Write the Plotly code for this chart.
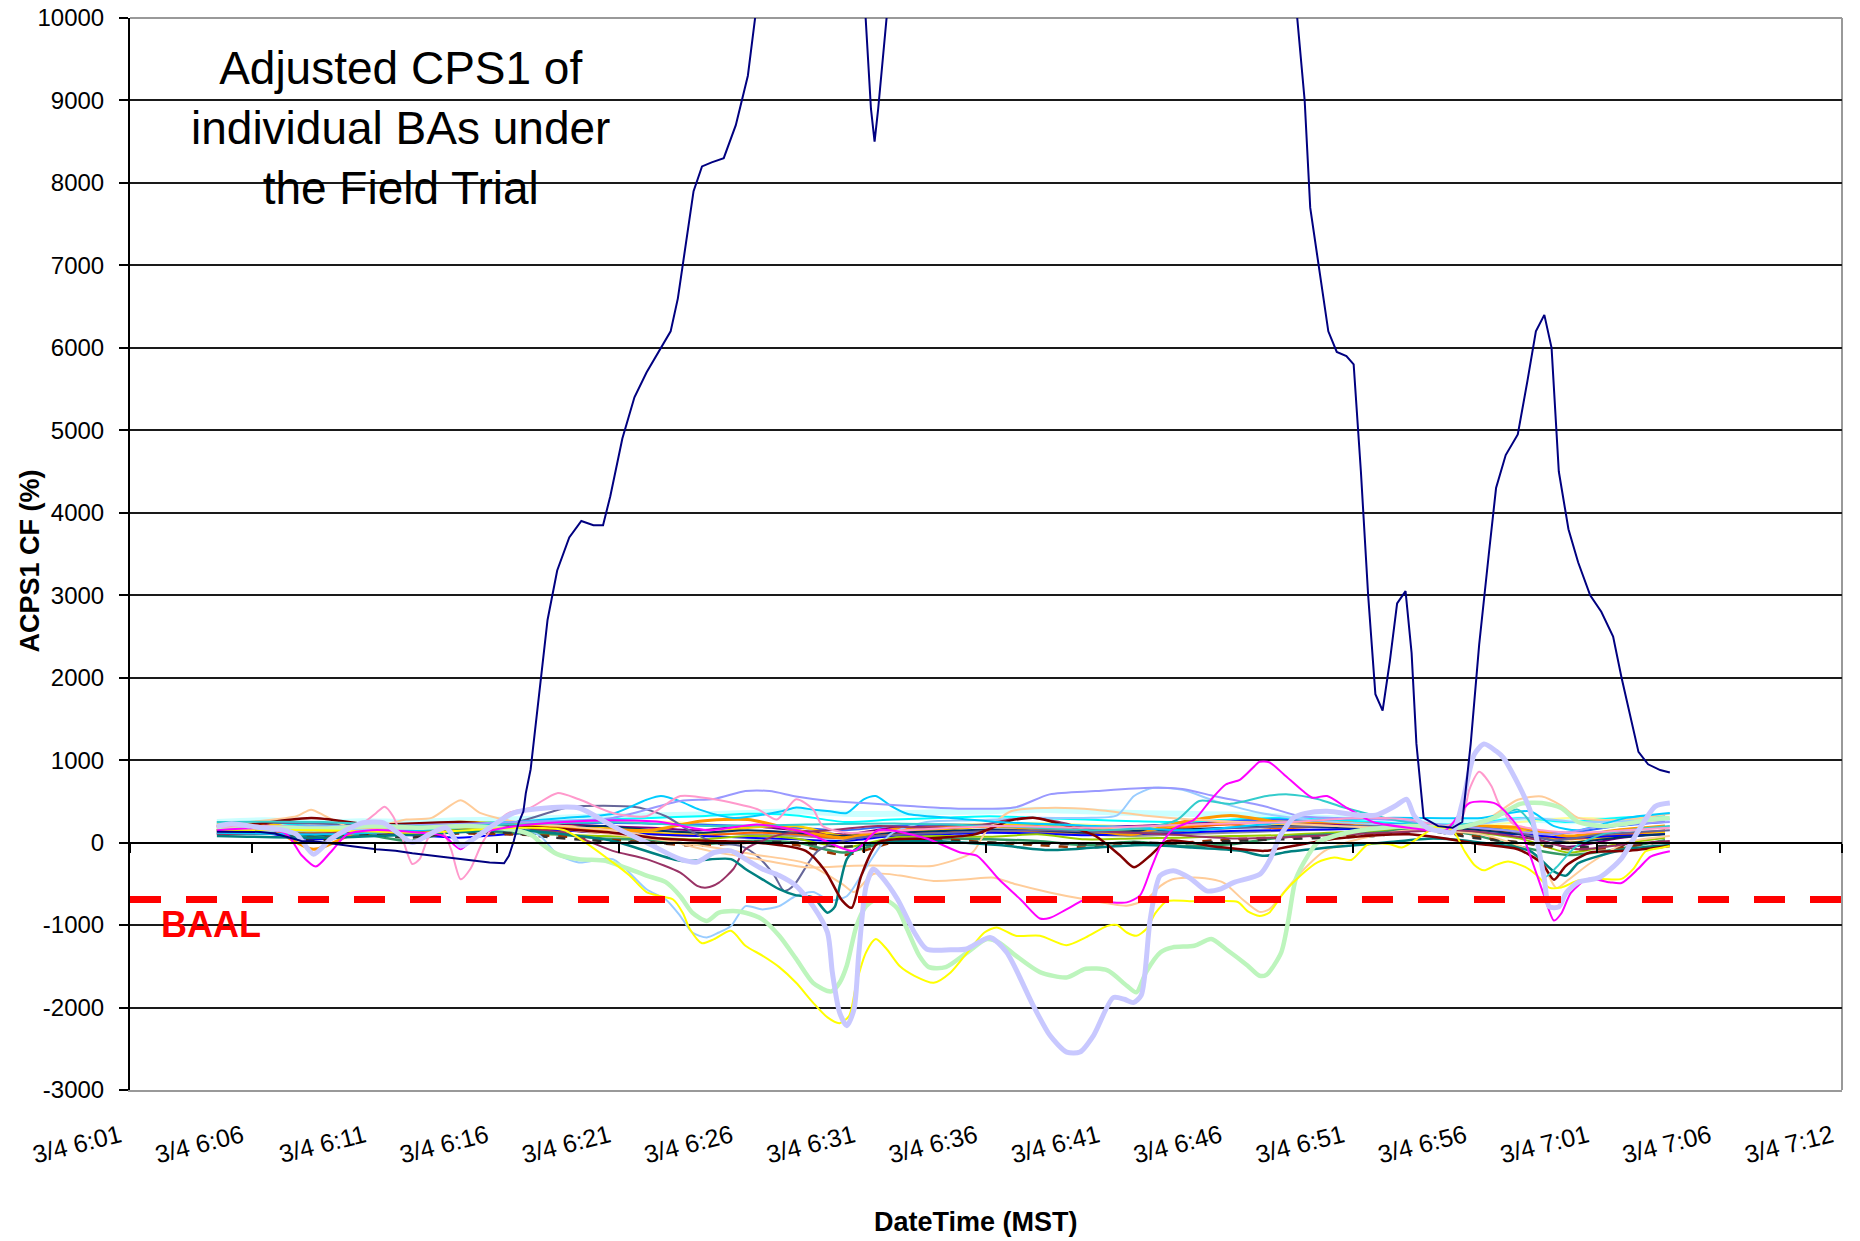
import plotly.graph_objects as go

# x values: minutes after the first axis label (3/4 6:01), y values: ACPS1 CF (%)
tick_labels = ["3/4 6:01", "3/4 6:06", "3/4 6:11", "3/4 6:16", "3/4 6:21",
               "3/4 6:26", "3/4 6:31", "3/4 6:36", "3/4 6:41", "3/4 6:46",
               "3/4 6:51", "3/4 6:56", "3/4 7:01", "3/4 7:06", "3/4 7:12"]
tick_step = 304 / 60  # one label every 304 s
y_ticks = [-3000, -2000, -1000, 0, 1000, 2000, 3000, 4000, 5000, 6000, 7000, 8000, 9000, 10000]
baal = -690

navy_t = [3.6, 4.5, 5.4, 6.0, 6.6, 7.1, 7.7, 8.5, 9.2, 10.2, 11.0, 11.7, 12.9, 13.9, 14.9, 15.5, 15.7, 15.9, 16.1, 16.3, 16.4, 16.6,
          16.96, 17.3, 17.7, 18.2, 18.7, 19.2, 19.6, 19.9, 20.4, 20.9, 21.4, 21.9, 22.4, 22.7, 23.0, 23.35, 23.7, 24.1, 24.6, 25.1, 25.6, 25.9,
          26.5, 28.0, 29.5, 30.4, 30.7, 30.85, 31.0, 31.3, 31.6, 33.0, 36.0, 40.0, 44.0, 47.0, 48.3,
          48.67, 48.9, 49.3, 49.65, 50.0, 50.4, 50.7, 51.0, 51.3, 51.6, 51.9, 52.2, 52.5, 52.85, 53.1, 53.3, 53.6, 54.2, 54.8, 55.2,
          55.55, 55.9, 56.3, 56.6, 57.0, 57.5, 57.9, 58.25, 58.6, 58.9, 59.2, 59.6, 60.0, 60.5, 60.96, 61.45, 61.8, 62.2, 62.5, 62.9, 63.4, 63.8]
navy_v = [133, 130, 130, 110, 60, 20, 15, -20, -45, -80, -100, -130, -170, -210, -240, -250, -160, 20, 240, 380, 600, 890,
          1800, 2700, 3300, 3700, 3900, 3850, 3850, 4200, 4900, 5400, 5700, 5950, 6200, 6600, 7200, 7900, 8200, 8250, 8300, 8700, 9300, 10000,
          11000, 12500, 11500, 10400, 8900, 8500, 8900, 9800, 10800, 12500, 14000, 14500, 13500, 11800, 10200,
          9000, 7700, 6900, 6200, 5950, 5900, 5800, 4500, 3000, 1800, 1600, 2200, 2900, 3050, 2300, 1200, 300, 200, 180, 250,
          1200, 2400, 3500, 4300, 4700, 4950, 5600, 6200, 6400, 6000, 4500, 3800, 3400, 3000, 2800, 2500, 2000, 1500, 1100, 950, 880, 850]

lav_t = [3.6, 4.2, 5.0, 5.5, 6.2, 6.9, 7.6, 8.3, 9.0, 9.65,
         10.5, 11.0, 11.7, 12.4, 13.1, 13.7, 14.4, 15.2, 15.9, 17.25,
         18.6, 20.0, 21.4, 22.8, 23.5, 24.2, 24.9, 25.5, 26.2, 26.9,
         27.6, 28.3, 28.9, 29.1, 29.4, 29.7, 30.0, 30.2, 30.5, 30.8,
         31.1, 31.8, 32.5, 33.0, 34.0, 34.66, 35.63, 36.32, 37.43, 38.12,
         38.81, 39.36, 39.92, 40.74, 41.2, 41.57, 41.9, 42.27, 42.68, 43.23,
         43.92, 44.61, 45.2, 45.72, 46.83, 47.24, 47.65, 48.21, 48.7, 49.6,
         51.0, 51.7, 52.4, 52.9, 53.2, 53.8, 54.3, 54.8, 55.2, 55.7,
         56.1, 56.6, 56.9, 57.4, 58.0, 58.3, 58.6, 58.8, 59.2, 59.5,
         60.0, 60.9, 61.8, 62.5, 63.2, 63.8]
lav_v = [200, 230, 200, 180, 160, 100, -140, 40, 160, 240,
         240, 140, 0, 100, 180, -40, 80, 240, 360, 420,
         420, 200, 0, -200, -235, -120, -100, -200, -320, -400,
         -525, -770, -1090, -1575, -2060, -2220, -2020, -1330, -525, -320,
         -400, -686, -1090, -1290, -1300, -1290, -1150, -1330, -1980, -2340,
         -2540, -2540, -2340, -1880, -1900, -1940, -1850, -930, -400, -340,
         -430, -585, -560, -485, -380, -200, 80, 300, 355, 380,
         330, 340, 440, 525, 330, 170, 140, 125, 480, 1070,
         1195, 1110, 1030, 775, 400, 20, -440, -775, -780, -610,
         -480, -420, -190, 145, 440, 480]

green_t = [3.6, 6.0, 8.0, 10.0, 12.0, 14.0, 16.0, 16.7, 17.0, 17.7,
           18.6, 19.7, 20.3, 21.4, 22.2, 22.8, 23.3, 23.9, 24.4, 25.0,
           25.5, 26.2, 26.9, 27.6, 28.3, 28.9, 29.1, 29.4, 29.7, 30.1,
           30.5, 30.9, 31.35, 31.8, 32.2, 32.7, 33.1, 33.8, 34.7, 35.5,
           36.0, 36.7, 37.7, 38.8, 39.6, 40.5, 41.3, 41.7, 42.1, 42.7,
           43.2, 44.1, 44.8, 45.4, 46.3, 46.8, 47.1, 47.7, 48.0, 48.3,
           48.8, 49.2, 49.9, 51.0, 53.0, 55.0, 56.5, 57.6, 58.5, 59.3,
           60.0, 61.0, 62.0, 63.0, 63.8]
green_v = [150, 180, 170, 200, 180, 200, 150, 80, 0, -140,
           -200, -220, -280, -400, -480, -650, -850, -950, -850, -830,
           -850, -930, -1130, -1410, -1700, -1800, -1800, -1700, -1490, -1010,
           -770, -690, -700, -800, -1050, -1370, -1510, -1510, -1330, -1170,
           -1210, -1370, -1570, -1635, -1530, -1550, -1735, -1815, -1570, -1330,
           -1270, -1250, -1170, -1290, -1490, -1615, -1600, -1330, -930, -445,
           -160, 0, 80, 150, 200, 180, 300, 470, 480, 420,
           250, 200, 230, 280, 300]

yel_t = [3.6, 8.0, 12.0, 16.0, 18.0, 20.0, 20.7, 21.4, 22.0, 22.5,
         22.9, 23.2, 23.7, 24.2, 24.9, 25.5, 26.2, 26.9, 27.6, 28.3,
         28.9, 29.4, 29.8, 30.1, 30.5, 30.9, 31.35, 31.9, 32.5, 33.3,
         34.0, 34.7, 35.4, 35.9, 36.7, 37.7, 38.8, 39.6, 40.5, 40.9,
         41.3, 41.7, 42.1, 42.5, 42.96, 43.9, 45.0, 45.9, 46.3, 46.8,
         47.2, 47.8, 48.5, 49.2, 49.9, 50.6, 51.3, 52.2, 52.7, 53.6,
         54.1, 54.8, 55.3, 55.7, 56.1, 56.6, 57.1, 57.8, 58.3, 58.8,
         59.3, 60.0, 60.9, 61.8, 62.3, 62.8, 63.5, 63.8]
yel_v = [150, 150, 120, 180, 150, -240, -400, -600, -650, -690,
         -850, -1050, -1220, -1170, -1070, -1250, -1370, -1510, -1700, -1940,
         -2120, -2190, -2100, -1700, -1330, -1170, -1290, -1500, -1615, -1700,
         -1575, -1330, -1090, -1030, -1130, -1130, -1245, -1150, -1010, -1000,
         -1090, -1130, -1050, -850, -710, -710, -710, -720, -830, -890,
         -850, -610, -400, -240, -180, -210, -20, -20, -60, 100,
         190, 150, -105, -270, -335, -270, -230, -295, -400, -545,
         -545, -460, -440, -440, -315, -105, -60, -40]

mag_t = [3.6, 5.5, 6.5, 7.1, 7.7, 8.3, 9.0, 10.0, 12.0, 13.0,
         13.7, 14.4, 16.0, 18.0, 20.0, 22.0, 24.0, 26.0, 28.0, 30.0,
         31.0, 33.0, 34.4, 35.1, 36.0, 36.9, 37.7, 38.1, 38.8, 39.6,
         40.5, 41.3, 41.85, 42.3, 42.7, 43.2, 44.1, 44.8, 45.4, 46.0,
         46.6, 46.8, 47.2, 47.8, 48.6, 49.0, 49.6, 50.4, 51.5, 53.0,
         54.5, 55.5, 56.6, 57.6, 58.1, 58.6, 59.0, 59.3, 59.7, 60.4,
         61.3, 61.8, 62.5, 63.0, 63.8]
mag_v = [150, 170, 100, -150, -290, -120, 100, 150, 120, 80,
         -80, 100, 200, 250, 270, 250, 150, 220, 120, -100,
         150, 50, -120, -160, -445, -690, -920, -915, -810, -690,
         -720, -725, -640, -320, -40, 160, 280, 525, 705, 765,
         930, 980, 975, 830, 625, 545, 565, 425, 250, 180,
         150, 480, 470, 150, -230, -650, -945, -860, -610, -440,
         -480, -490, -315, -170, -105]

pink_t = [3.6, 6.0, 8.0, 9.65, 10.2, 10.55, 10.9, 11.3, 11.7, 12.0,
          12.4, 12.9, 13.3, 13.7, 14.1, 14.6, 15.2, 15.7, 16.6, 17.7,
          18.6, 20.0, 21.4, 22.8, 24.2, 26.0, 26.8, 27.6, 28.3, 28.7,
          29.7, 32.0, 36.0, 40.0, 44.0, 48.0, 51.0, 53.0, 54.5, 55.2,
          55.5, 55.9, 56.4, 56.7, 57.3, 58.5, 60.0, 62.0, 63.8]
pink_v = [180, 200, 150, 240, 360, 435, 320, 40, -260, -200,
          80, 160, -80, -445, -320, 0, 240, 360, 425, 600,
          525, 360, 320, 565, 525, 405, 280, 525, 405, 200,
          120, 150, 200, 180, 220, 250, 300, 280, 200, 315,
          650, 860, 690, 480, 230, 150, 120, 150, 180]

peach_lo_t = [3.6, 10.0, 16.0, 20.0, 24.0, 26.0, 28.0, 29.5, 30.0, 30.8,
              31.9, 33.3, 34.7, 35.8, 36.7, 38.1, 39.5, 41.3, 42.1, 42.7,
              43.2, 44.3, 45.3, 46.1, 46.8, 47.2, 47.8, 48.5, 49.5, 51.0,
              53.0, 56.0, 58.0, 58.6, 59.1, 59.6, 60.5, 62.0, 63.8]
peach_lo_v = [150, 180, 200, 100, -50, -150, -250, -500, -600, -380,
              -400, -465, -445, -425, -505, -605, -685, -765, -690, -525,
              -445, -425, -485, -690, -840, -810, -605, -365, -100, 50,
              150, 100, -100, -300, -550, -450, -250, 0, 80]

peach_hi_t = [3.6, 5.0, 6.9, 7.5, 8.1, 9.0, 10.5, 11.45, 12.5, 13.7,
              14.5, 16.0, 18.0, 20.0, 22.0, 24.0, 26.0, 28.0, 30.0, 32.0,
              33.3, 34.9, 35.5, 36.5, 38.0, 40.0, 42.0, 44.0, 46.0, 48.0,
              50.0, 53.0, 56.0, 57.5, 58.5, 59.3, 60.0, 62.0, 63.8]
peach_hi_v = [200, 250, 320, 400, 320, 200, 220, 280, 300, 515,
              360, 250, 200, 150, 50, -100, -200, -300, -280, -280,
              -280, -120, 150, 380, 420, 400, 330, 280, 250, 230,
              200, 180, 250, 520, 560, 450, 300, 280, 350]

lblue_t = [3.6, 8.0, 12.0, 16.0, 17.0, 17.7, 18.6, 20.0, 21.4, 22.2,
           22.8, 23.3, 23.9, 24.4, 24.9, 25.5, 26.2, 26.9, 27.6, 28.3,
           29.0, 29.7, 30.5, 31.5, 33.0, 35.0, 37.4, 39.5, 40.9, 41.6,
           42.4, 43.6, 45.0, 47.0, 50.0, 55.0, 58.0, 60.0, 63.8]
lblue_v = [120, 150, 160, 200, 80, -140, -240, -200, -565, -690,
           -890, -1090, -1150, -1090, -1010, -770, -810, -770, -645, -600,
           -700, -650, -300, 100, 250, 270, 300, 300, 330, 565,
           665, 640, 500, 350, 250, 200, 300, 250, 280]

plum_t = [3.6, 10.0, 16.0, 18.0, 20.0, 21.4, 22.8, 23.5, 23.9, 24.4,
          25.0, 25.5, 27.0, 29.0, 31.0, 33.0, 35.0, 36.5, 37.5, 38.5,
          40.0, 43.0, 46.0, 49.0, 52.0, 55.0, 58.0, 60.0, 62.0, 63.8]
plum_v = [100, 120, 150, 120, -100, -200, -365, -525, -545, -485,
          -320, -80, 100, 150, 200, 180, 200, 280, 300, 250,
          150, 100, 50, 80, 120, 150, 50, -80, -20, 20]

teal_t = [3.6, 8.0, 12.0, 16.0, 20.0, 22.8, 24.9, 25.5, 26.2, 26.9,
          27.6, 28.3, 28.9, 29.2, 29.4, 29.7, 30.2, 31.0, 33.0, 36.0,
          38.0, 40.0, 42.0, 44.0, 46.0, 47.0, 48.0, 50.0, 52.0, 54.0,
          56.0, 58.0, 59.0, 59.5, 60.0, 61.0, 62.0, 63.8]
teal_v = [80, 60, 100, 150, 20, -220, -200, -320, -445, -565,
          -640, -665, -850, -780, -530, -200, -50, 0, 20, -30,
          -90, -60, -30, -60, -100, -160, -110, -50, 0, 50,
          0, -100, -350, -400, -250, -150, -80, -30]

cyan_t = [3.6, 8.0, 12.0, 16.0, 18.0, 20.0, 21.4, 22.0, 22.8, 23.6,
          25.0, 27.0, 27.6, 28.3, 29.0, 29.7, 30.4, 30.9, 31.5, 32.2,
          34.0, 36.0, 40.0, 44.0, 48.0, 52.0, 56.0, 58.0, 59.0, 60.0,
          62.0, 63.8]
cyan_v = [120, 100, 150, 250, 300, 350, 520, 565, 500, 400,
          300, 380, 425, 400, 380, 360, 525, 565, 450, 350,
          300, 250, 200, 150, 250, 300, 300, 380, 200, 150,
          300, 360]

peri_t = [3.6, 10.0, 16.0, 20.0, 22.8, 24.2, 25.5, 26.5, 27.6, 29.0,
          30.4, 32.5, 33.6, 35.0, 36.7, 38.1, 40.0, 42.3, 43.6, 45.0,
          47.0, 48.5, 50.0, 52.0, 55.0, 57.0, 59.0, 61.0, 63.8]
peri_v = [200, 200, 250, 300, 505, 530, 625, 625, 560, 505,
          480, 440, 420, 410, 430, 585, 625, 665, 650, 560,
          440, 320, 300, 280, 200, 150, 100, 200, 250]

turq_t = [3.6, 8.0, 12.0, 16.0, 20.0, 24.0, 28.0, 32.0, 36.0, 40.0,
          42.0, 43.4, 44.3, 45.6, 47.1, 48.0, 49.2, 50.3, 52.0, 54.0,
          56.0, 57.5, 58.2, 58.6, 59.1, 59.9, 61.0, 63.8]
turq_v = [250, 250, 200, 220, 250, 200, 220, 230, 200, 150,
          180, 280, 505, 470, 565, 585, 530, 425, 300, 200,
          250, 400, 150, -420, -300, -50, 100, 200]

maroon_t = [3.6, 7.5, 10.0, 13.7, 16.0, 20.0, 22.0, 24.0, 26.0, 28.0,
            28.8, 29.5, 29.9, 30.3, 31.0, 33.0, 35.0, 36.5, 37.5, 38.5,
            40.0, 41.0, 41.6, 42.3, 43.0, 45.0, 47.0, 48.0, 50.0, 53.0,
            56.0, 57.5, 58.5, 59.0, 59.5, 60.5, 62.0, 63.8]
maroon_v = [150, 300, 220, 250, 200, 120, 50, 20, 0, -100,
            -340, -700, -790, -400, 0, 50, 100, 270, 300, 230,
            80, -150, -300, -150, 20, -50, -100, -50, 50, 100,
            -20, -80, -250, -450, -280, -120, -100, -40]

slate_t = [3.6, 8.0, 12.0, 16.0, 18.2, 21.0, 22.2, 23.1, 24.2, 25.3,
           26.0, 26.7, 27.1, 27.5, 28.5, 30.0, 34.0, 38.0, 42.0, 46.0,
           50.0, 54.0, 57.0, 59.0, 61.0, 63.8]
slate_v = [250, 230, 200, 250, 430, 430, 320, 160, 0, -40,
           -165, -400, -585, -520, -100, 50, 120, 150, 120, 180,
           200, 200, 150, 30, 100, 150]

# the remaining BAs, read on a common 2-minute grid
grid_t = [3.6, 5.6, 7.6, 9.6, 11.6, 13.6, 15.6, 17.6, 19.6, 21.6,
          23.6, 25.6, 27.6, 29.6, 31.6, 33.6, 35.6, 37.6, 39.6, 41.6,
          43.6, 45.6, 47.6, 49.6, 51.6, 53.6, 55.6, 57.6, 59.6, 61.6,
          63.6]
orange_v = [180, 200, -80, 150, 170, 220, 200, 180, 160, 150,
            260, 280, 150, 60, 160, 180, 200, 170, 150, 100,
            250, 330, 250, 250, 220, 190, 200, 180, 80, 150,
            200]
gold_v = [220, 240, 120, 200, 180, 250, 230, 200, 180, 120,
          100, 180, 200, 80, 150, 160, 200, 220, 180, 150,
          200, 240, 230, 200, 190, 200, 180, 150, 0, 80,
          130]
dgreen_v = [120, 140, 60, 100, 20, 150, 120, 100, 50, 30,
            -20, 20, 0, -120, 30, 50, 40, 20, -30, 10,
            -40, -20, 60, 100, 120, 170, 100, -50, -150, -80,
            30]
lime_v = [150, 160, 100, 130, 120, 160, 150, 100, 80, 60,
          40, 80, 50, -60, 60, 80, 70, 100, 40, 50,
          60, 80, 90, 120, 140, 180, 130, 50, -120, -20,
          60]
blue_v = [100, 110, 40, 80, 90, 60, 100, 150, 120, 100,
          80, 60, 40, 20, 80, 100, 120, 110, 90, 100,
          120, 140, 150, 160, 170, 190, 120, 100, 60, 80,
          100]
royal_v = [180, 200, 150, 180, 160, 190, 200, 220, 240, 230,
           220, 200, 180, 150, 200, 220, 210, 180, 190, 200,
           220, 260, 280, 250, 230, 210, 180, 150, 120, 200,
           250]
gray_v = [200, 210, 120, 180, 100, 200, 190, 200, 180, 150,
          120, 100, 80, 50, 100, 120, 150, 130, 100, 80,
          100, 120, 140, 160, 180, 200, 150, 120, 50, 100,
          120]
redorange_v = [150, 170, 100, 150, 140, 170, 160, 150, 120, 100,
               80, 120, 100, 50, 100, 130, 150, 140, 120, 130,
               180, 220, 170, 200, 180, 200, 170, 120, 40, 90,
               150]
brown_v = [100, 120, 60, 100, 80, 110, 100, 80, 40, 0,
           -40, 0, -30, -150, 0, 40, 0, -30, -60, -20,
           0, 40, 60, 80, 100, 150, 80, 0, -80, -60,
           20]
aqua_v = [230, 250, 200, 230, 210, 240, 250, 260, 280, 300,
          320, 350, 330, 250, 280, 300, 320, 300, 280, 260,
          250, 280, 300, 280, 250, 220, 230, 300, 250, 300,
          330]
icecyan_v = [250, 270, 240, 260, 250, 270, 280, 300, 320, 330,
             340, 360, 380, 350, 350, 370, 380, 400, 380, 360,
             350, 340, 320, 300, 280, 240, 250, 280, 260, 280,
             300]
purple_v = [200, 220, 100, 190, 140, 200, 210, 230, 200, 180,
            150, 200, 150, 100, 180, 200, 220, 200, 180, 200,
            220, 250, 240, 230, 210, 200, 180, 100, -50, 50,
            120]
dark_v = [130, 150, 20, 100, 60, 120, 120, 60, 20, 0,
          -20, 10, 0, -50, 10, 20, 0, -10, -20, 0,
          -10, 20, 40, 60, 80, 150, 60, 0, -60, -30,
          0]
dblue_v = [140, 160, 80, 140, 100, 150, 160, 180, 200, 150,
           120, 150, 120, 80, 120, 140, 160, 150, 120, 140,
           160, 180, 200, 190, 180, 190, 160, 100, 0, 60,
           100]
lyellow_v = [200, 220, 180, 200, 180, 210, 220, 240, 250, 260,
             230, 200, 180, 150, 200, 220, 230, 240, 220, 200,
             230, 250, 260, 240, 220, 210, 200, 250, 300, 280,
             260]

tick_pos = [i * tick_step for i in range(len(tick_labels))]
x_range = [tick_pos[0], tick_pos[-1]]
y_range = [y_ticks[0], y_ticks[-1]]
font = "Liberation Sans, Arial, sans-serif"

fig = go.Figure()


def add_line(t, v, color, width=2, dash="solid", shape="spline"):
    fig.add_trace(go.Scatter(x=t, y=v, mode="lines", hoverinfo="skip",
                             line=dict(color=color, width=width, dash=dash,
                                       shape=shape, smoothing=0.7)))


# background cluster
add_line(grid_t, icecyan_v, "#ccffff", 6)
add_line(grid_t, lyellow_v, "#ffff99")
add_line(grid_t, aqua_v, "#00ffff")
add_line(grid_t, royal_v, "#3366ff")
add_line(grid_t, gray_v, "#969696")
add_line(grid_t, purple_v, "#800080")
add_line(grid_t, gold_v, "#ffcc00", 2.5)
add_line(grid_t, redorange_v, "#ff6600")
add_line(grid_t, blue_v, "#0000ff")
add_line(grid_t, dblue_v, "#003366")
add_line(grid_t, lime_v, "#99cc00")
add_line(grid_t, dgreen_v, "#339966", 2.5)
add_line(grid_t, brown_v, "#993300", 2.5, "dash")
add_line(grid_t, dark_v, "#333333", 2.5, "dash")
add_line(grid_t, orange_v, "#ff9900", 3)

# BAs that leave the cluster
add_line(slate_t, slate_v, "#666699")
add_line(peach_hi_t, peach_hi_v, "#ffcc99")
add_line(peach_lo_t, peach_lo_v, "#ffcc99")
add_line(lblue_t, lblue_v, "#99ccff")
add_line(plum_t, plum_v, "#993366")
add_line(teal_t, teal_v, "#008080", 2.5)
add_line(maroon_t, maroon_v, "#800000", 2.5)
add_line(cyan_t, cyan_v, "#00ccff")
add_line(peri_t, peri_v, "#9999ff")
add_line(turq_t, turq_v, "#33cccc")
add_line(pink_t, pink_v, "#ff99cc")
add_line(green_t, green_v, "#bdf5bd", 4.5)
add_line(yel_t, yel_v, "#ffff00", 2)
add_line(mag_t, mag_v, "#ff00ff", 2)
add_line(lav_t, lav_v, "#c8c8ff", 5)
add_line(navy_t, navy_v, "#000080", 2, shape="linear")

# BAAL limit, drawn on the zero-crossing axis
fig.add_trace(go.Scatter(x=x_range, y=[baal, baal], mode="lines", xaxis="x2",
                         hoverinfo="skip",
                         line=dict(color="#ff0000", width=7, dash="31px,25px")))

zero_pos = (0 - y_range[0]) / (y_range[1] - y_range[0])

fig.update_layout(
    width=1860, height=1241,
    margin=dict(l=130, r=18, t=18, b=151, autoexpand=False),
    paper_bgcolor="white", plot_bgcolor="white",
    showlegend=False,
    font=dict(family=font, color="black"),
    xaxis=dict(range=x_range, tickvals=tick_pos, ticktext=tick_labels,
               tickangle=-14, tickfont=dict(size=25), ticks="",
               ticklabelstandoff=20, ticklabelshift=-10, automargin=False,
               ticklabeloverflow="allow",
               showgrid=False, zeroline=False,
               showline=True, linecolor="#999999", linewidth=2),
    xaxis2=dict(overlaying="x", anchor="free", position=zero_pos, side="bottom",
                range=x_range, tickvals=tick_pos, showticklabels=False,
                ticks="outside", ticklen=9, tickwidth=2, tickcolor="black",
                showgrid=False, zeroline=False, automargin=False,
                showline=True, linecolor="black", linewidth=2),
    yaxis=dict(range=y_range, tickvals=y_ticks, ticktext=[str(v) for v in y_ticks],
               tickfont=dict(size=24), ticklabelstandoff=10, automargin=False,
               ticklabeloverflow="allow",
               ticks="outside", ticklen=9, tickwidth=2, tickcolor="black",
               showgrid=True, gridcolor="#1a1a1a", gridwidth=2,
               zeroline=False, showline=True, linecolor="black", linewidth=2),
    shapes=[
        dict(type="rect", xref="paper", yref="y", x0=0.003, x1=0.3123,
             y0=7550, y1=9900, fillcolor="white", line=dict(width=0),
             layer="between"),
        dict(type="line", xref="paper", yref="paper", x0=1, x1=1, y0=0, y1=1,
             line=dict(color="#999999", width=2), layer="between"),
        dict(type="line", xref="paper", yref="paper", x0=0, x1=1, y0=1, y1=1,
             line=dict(color="#999999", width=2), layer="between"),
    ],
    annotations=[
        dict(text="Adjusted CPS1 of<br>individual BAs under<br>the Field Trial",
             xref="paper", yref="y", x=0.158, y=8672, showarrow=False,
             xanchor="center", yanchor="middle", align="center",
             font=dict(size=46, color="black")),
        dict(text="<b>BAAL</b>", xref="paper", yref="y", x=0.0476, y=-989,
             showarrow=False, xanchor="center", yanchor="middle",
             font=dict(size=36, color="#ff0000")),
        dict(text="<b>ACPS1 CF (%)</b>", xref="paper", yref="paper",
             x=-0.0587, y=0.4935, textangle=-90, showarrow=False,
             xanchor="center", yanchor="middle", font=dict(size=27)),
        dict(text="<b>DateTime (MST)</b>", xref="paper", yref="paper",
             x=0.494, y=-0.123, showarrow=False,
             xanchor="center", yanchor="middle", font=dict(size=27)),
    ],
)

# drop the default page margin so the figure fills the window exactly
fig.write_html("out.html", config={"displayModeBar": False},
               post_script="document.body.style.margin = '0';")
